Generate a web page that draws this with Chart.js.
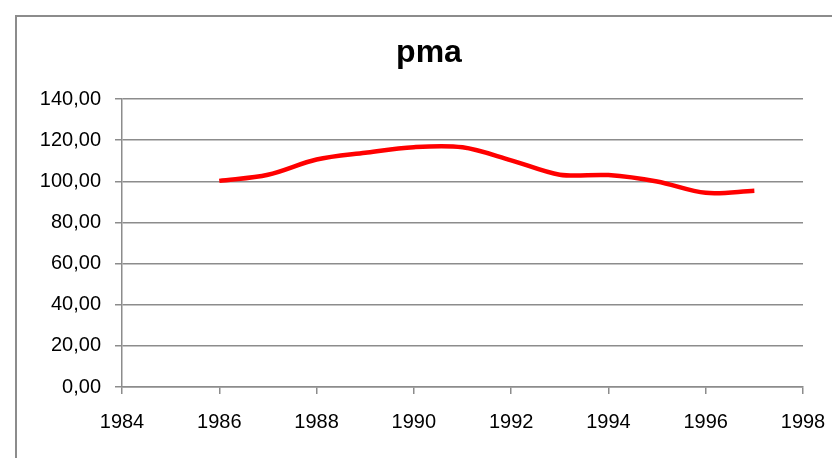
<!DOCTYPE html>
<html>
<head>
<meta charset="utf-8">
<script src="https://cdn.jsdelivr.net/npm/chart.js@4/dist/chart.umd.min.js"></script>
<style>
  html, body { margin: 0; padding: 0; background: #fff; }
  #wrap { width: 832px; height: 458px; }
</style>
</head>
<body>
<div id="wrap"><canvas id="chart" width="832" height="458"></canvas></div>
<script>
// values
var years = [1986, 1987, 1988, 1989, 1990, 1991, 1992, 1993, 1994, 1995, 1996, 1997];
var pma = [100.2, 103.2, 110.6, 113.9, 116.6, 116.5, 110.2, 103.2, 103.0, 99.9, 94.4, 95.4];
var xTicks = [1984, 1986, 1988, 1990, 1992, 1994, 1996, 1998];
var yTicks = [0, 20, 40, 60, 80, 100, 120, 140];
var chartTitle = 'pma';

var points = years.map(function(y, i) {
    return { x: y, y: pma[i] };
});

// grey frame round the whole chart (runs off the right and bottom edge) + title
var frame = {
    id: 'frame',
    beforeDraw: function(chart) {
        var ctx = chart.ctx;
        ctx.save();
        ctx.fillStyle = '#fff';
        ctx.fillRect(0, 0, chart.width, chart.height);
        ctx.strokeStyle = '#8c8c8c';
        ctx.lineWidth = 2;
        ctx.strokeRect(16, 16, chart.width + 40, chart.height + 40);
        ctx.restore();
    },
    afterDraw: function(chart) {
        var ctx = chart.ctx;
        ctx.save();
        ctx.fillStyle = '#000';
        ctx.font = 'bold 32px "Liberation Sans"';
        ctx.textAlign = 'center';
        ctx.textBaseline = 'alphabetic';
        ctx.fillText(chartTitle, 429, 62);
        ctx.restore();
    }
};

var ctx = document.getElementById('chart').getContext('2d');

new Chart(ctx, {
    type: 'line',
    data: {
        datasets: [{
            label: 'pma',
            data: points,
            borderColor: '#ff0000',
            backgroundColor: '#ff0000',
            borderWidth: 4.5,
            pointRadius: 0,
            tension: 0.33,
            fill: false
        }]
    },
    options: {
        responsive: false,
        animation: false,
        layout: { padding: { left: 0, right: 29, top: 99, bottom: 0 } },
        plugins: {
            legend: { display: false },
            tooltip: { enabled: false },
            title: { display: false }
        },
        scales: {
            x: {
                type: 'linear',
                min: 1984,
                max: 1998,
                afterBuildTicks: function(axis) {
                    axis.ticks = xTicks.map(function(v) { return { value: v }; });
                },
                afterFit: function(axis) {
                    axis.height = 71;
                    axis.paddingLeft = 0;
                    axis.paddingRight = 0;
                },
                grid: {
                    display: true,
                    drawOnChartArea: false,
                    drawTicks: true,
                    tickLength: 7,
                    color: '#8c8c8c',
                    lineWidth: 1.5
                },
                border: { display: true, color: '#8c8c8c', width: 1.5 },
                ticks: {
                    color: '#000',
                    padding: 16,
                    maxRotation: 0,
                    font: { family: 'Liberation Sans', size: 20 },
                    callback: function(v) { return String(v); }
                }
            },
            y: {
                min: 0,
                max: 140,
                afterBuildTicks: function(axis) {
                    axis.ticks = yTicks.map(function(v) { return { value: v }; });
                },
                afterFit: function(axis) { axis.width = 122; },
                grid: {
                    color: '#8c8c8c',
                    lineWidth: 1.5,
                    tickLength: 7
                },
                border: { display: true, color: '#8c8c8c', width: 1.5 },
                ticks: {
                    color: '#000',
                    padding: 14,
                    font: { family: 'Liberation Sans', size: 20 },
                    callback: function(v) { return v.toFixed(2).replace('.', ','); }
                }
            }
        }
    },
    plugins: [frame]
});
</script>
</body>
</html>
